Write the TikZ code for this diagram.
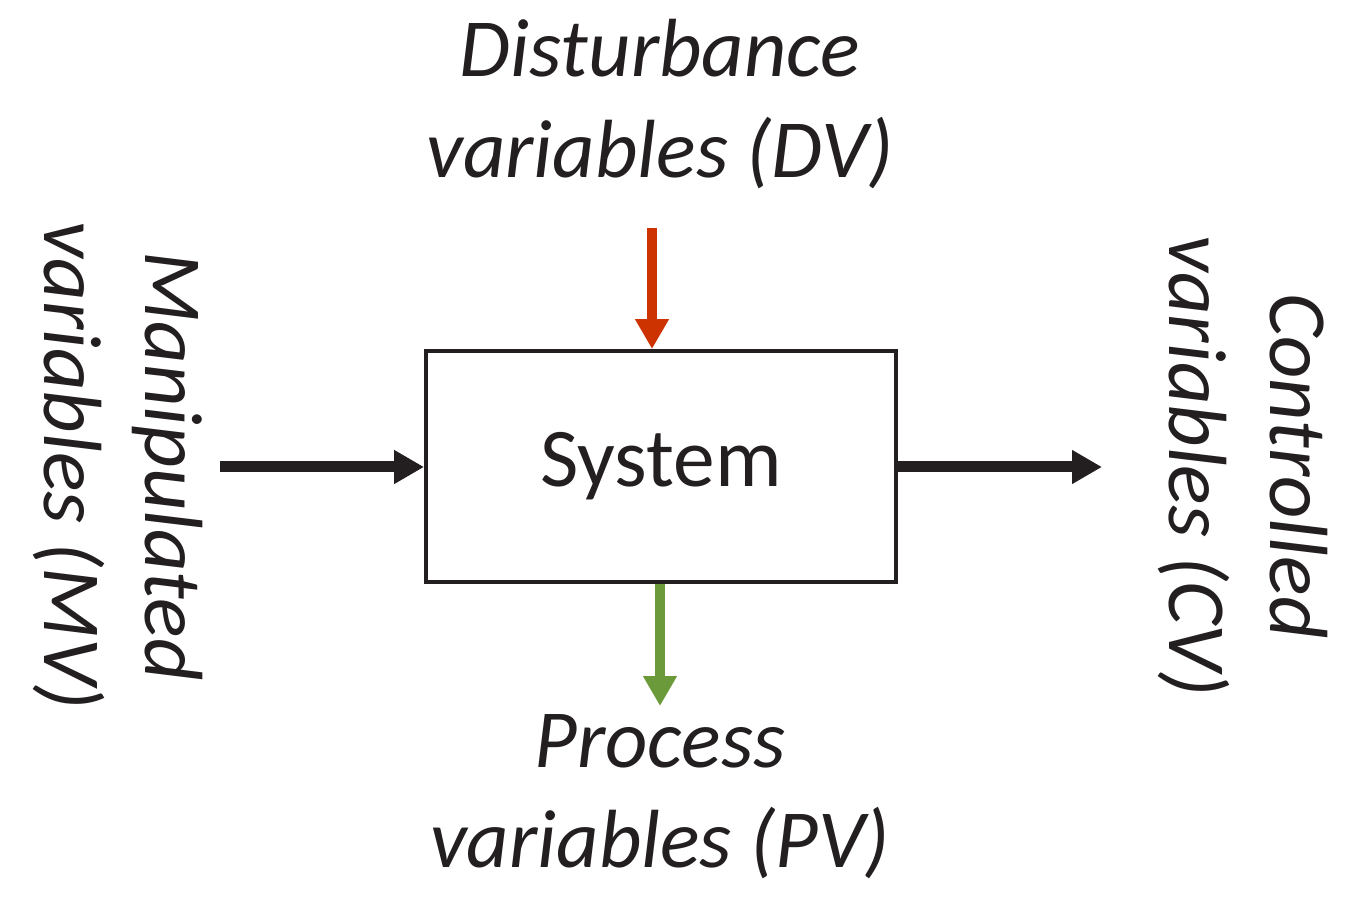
\documentclass[tikz,border=0pt]{standalone}
\usepackage{fontspec}
\setmainfont{Carlito}
\usetikzlibrary{arrows.meta}
\definecolor{dvred}{HTML}{CC3300}
\definecolor{pvgreen}{HTML}{6A9A3A}
\definecolor{ink}{HTML}{231F20}
\begin{document}
\begin{tikzpicture}[x=0.02cm,y=-0.02cm,
  lab/.style={font=\fontsize{47}{57}\selectfont\itshape,align=center,text=ink,inner sep=0},
  arr/.style={-{Triangle[length=0.6cm,width=0.64cm]},line width=0.22cm}]
\useasboundingbox (0,0) rectangle (1349,908);
\node[draw=ink,line width=0.08cm,minimum width=9.4cm,minimum height=4.62cm,
  font=\fontsize{47.5}{52}\selectfont,text=ink] (sys) at (661,466.5) {System};
\node[lab] (dv) at (660,104) {Disturbance\\variables (DV)};
\node[lab] (pv) at (660,797) {Process\\variables (PV)};
\node[lab,rotate=-90] (mv) at (118,466) {Manipulated\\variables (MV)};
\node[lab,rotate=-90] (cv) at (1243,466) {Controlled\\variables (CV)};
\coordinate (mvs) at (220,467);
\coordinate (cve) at (1102,467);
\coordinate (dvs) at (652,228);
\coordinate (pve) at (660,706);
\draw[arr,draw=ink,fill=ink] (mvs) -- (sys.west|-mvs);
\draw[arr,draw=ink,fill=ink] (sys.east|-cve) -- (cve);
\draw[arr,draw=dvred,fill=dvred,line width=0.2cm] (dvs) -- (dvs|-sys.north);
\draw[arr,draw=pvgreen,fill=pvgreen,line width=0.2cm] (pve|-sys.south) -- (pve);
\end{tikzpicture}
\end{document}
